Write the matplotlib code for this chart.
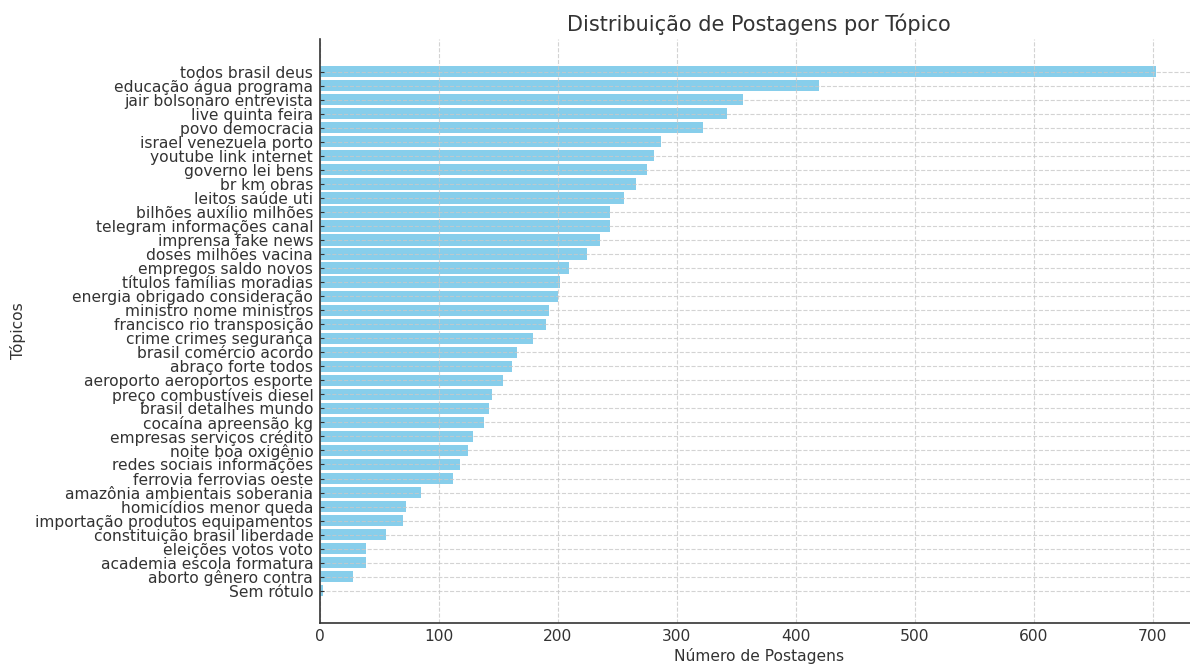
import matplotlib
matplotlib.use("Agg")
import matplotlib.pyplot as plt

topics = [
    "todos brasil deus", "educação água programa", "jair bolsonaro entrevista",
    "live quinta feira", "povo democracia", "israel venezuela porto",
    "youtube link internet", "governo lei bens", "br km obras", "leitos saúde uti",
    "bilhões auxílio milhões", "telegram informações canal", "imprensa fake news",
    "doses milhões vacina", "empregos saldo novos", "títulos famílias moradias",
    "energia obrigado consideração", "ministro nome ministros",
    "francisco rio transposição", "crime crimes segurança", "brasil comércio acordo",
    "abraço forte todos", "aeroporto aeroportos esporte", "preço combustíveis diesel",
    "brasil detalhes mundo", "cocaína apreensão kg", "empresas serviços crédito",
    "noite boa oxigênio", "redes sociais informações", "ferrovia ferrovias oeste",
    "amazônia ambientais soberania", "homicídios menor queda",
    "importação produtos equipamentos", "constituição brasil liberdade",
    "eleições votos voto", "academia escola formatura", "aborto gênero contra",
    "Sem rótulo",
]
counts = [
    703, 420, 356, 342, 322, 287, 281, 275, 266, 256,
    244, 244, 236, 225, 210, 202, 200, 193, 190, 179,
    166, 162, 154, 145, 142, 138, 129, 125, 118, 112,
    85, 73, 70, 56, 39, 39, 28, 3,
]
xticks = [0, 100, 200, 300, 400, 500, 600, 700]

text_color = "#333333"
plt.rcParams["font.family"] = ["DejaVu Sans"]

fig = plt.figure(figsize=(11.9, 6.64), dpi=100)
ax_left = 319.5 / 1190
ax_right = 1198 / 1190
ax = fig.add_axes([ax_left, 41 / 664, ax_right - ax_left, (623 - 39) / 664])

ypos = list(range(len(topics)))[::-1]
ax.barh(ypos, counts, height=0.8, color="skyblue")

ax.set_yticks(ypos)
ax.set_yticklabels(topics, fontsize=11.2, color=text_color)
ax.set_xticks(xticks)
ax.set_xticklabels([str(t) for t in xticks], fontsize=11.2, color=text_color)
ax.set_xlim(0, 738)
ax.set_ylim(-2.3, 39.33)

ax.tick_params(axis="y", direction="in", length=3, color="#333333", pad=4.5)
ax.tick_params(axis="x", direction="in", length=0, pad=4)

ax.grid(True, linestyle="--", color="#c8c8c8", alpha=0.8, linewidth=0.8)

for s in ["top", "right"]:
    ax.spines[s].set_visible(False)
for s in ["left", "bottom"]:
    ax.spines[s].set_color("#333333")
    ax.spines[s].set_linewidth(1.2)

ax.set_title("Distribuição de Postagens por Tópico", fontsize=15, color=text_color, pad=5.5)
ax.set_xlabel("Número de Postagens", fontsize=11.2, color=text_color)
ax.set_ylabel("Tópicos", fontsize=11.2, color=text_color)
ax.xaxis.set_label_coords(0.5, -(648 - 623) / 584)
ax.yaxis.set_label_coords(-(319.5 - 26) / 878.5, 0.5)

fig.savefig("out.png", dpi=100)
